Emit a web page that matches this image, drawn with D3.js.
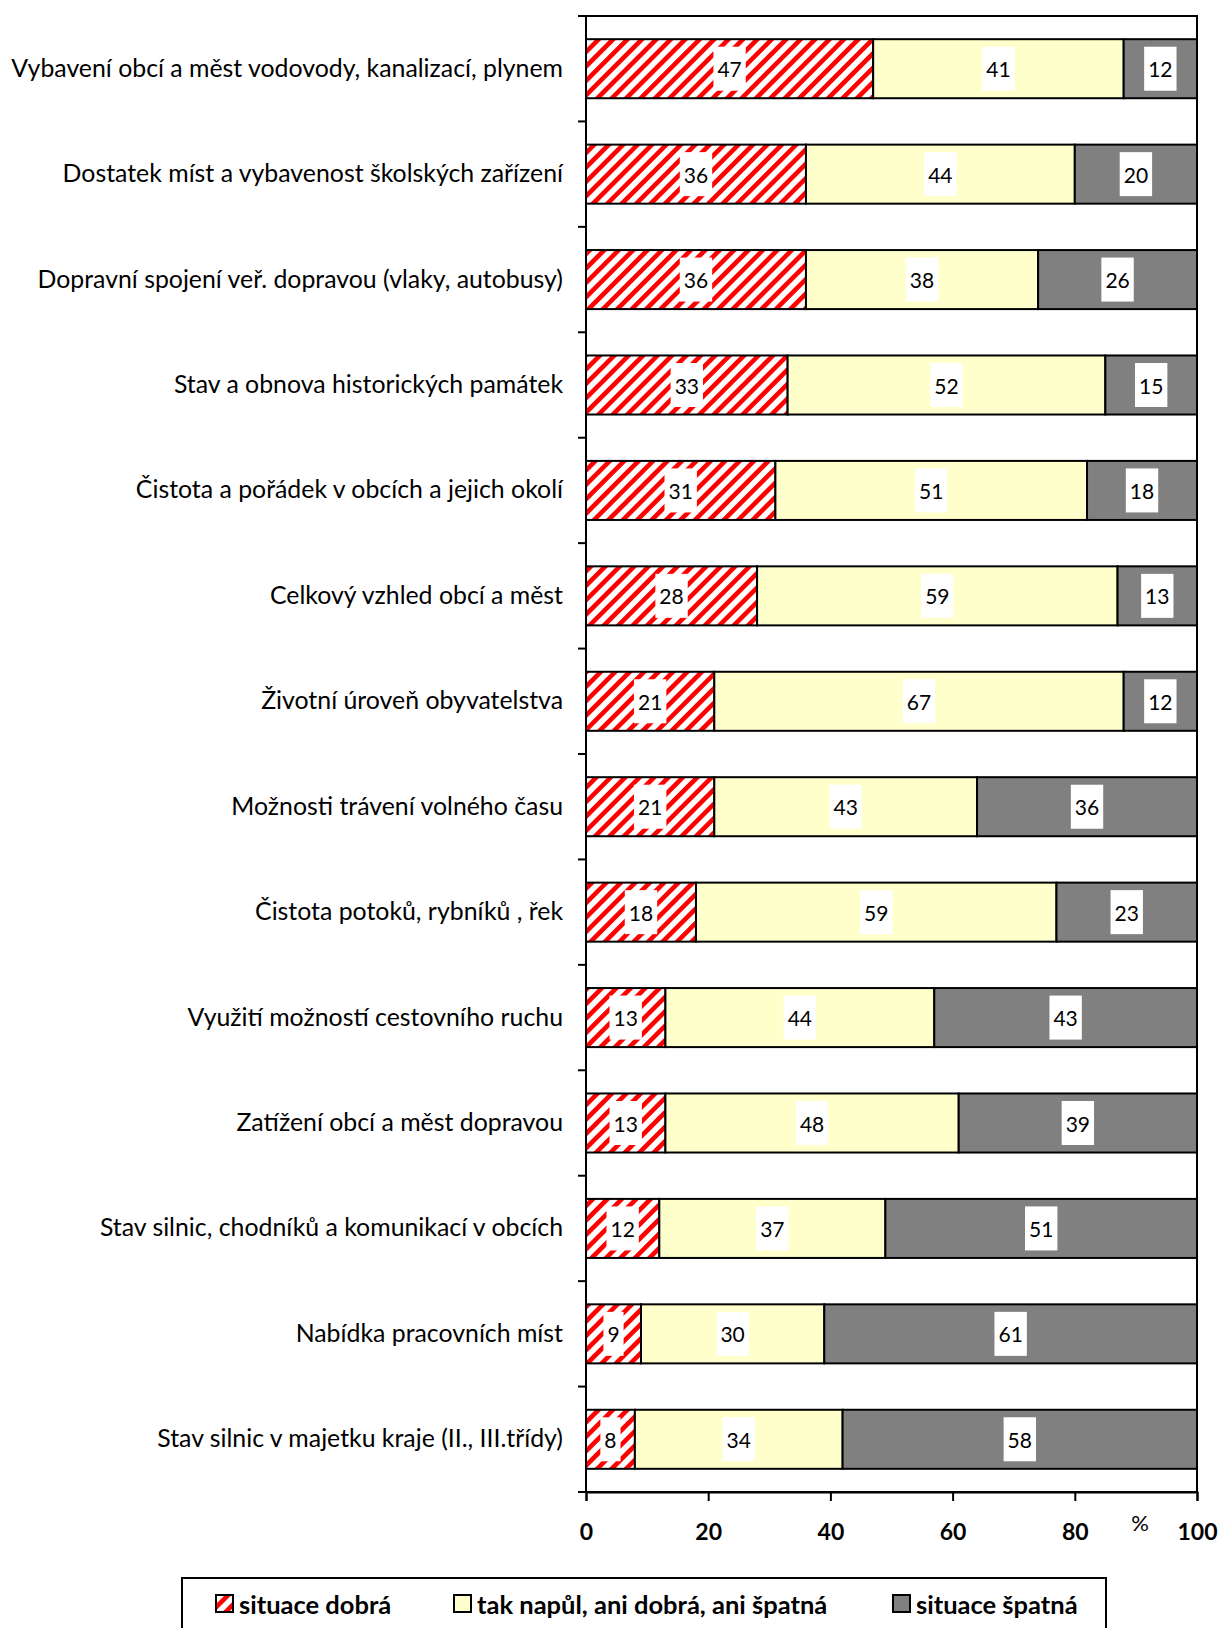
<!DOCTYPE html>
<html><head><meta charset="utf-8">
<script src="https://cdn.jsdelivr.net/npm/d3@7"></script>
<style>
html,body{margin:0;padding:0;background:#fff;}
svg{display:block;}
</style></head>
<body>
<svg id="chart" width="1220" height="1628"></svg>
<script>
const categories = [
  "Vybavení obcí a měst vodovody, kanalizací, plynem",
  "Dostatek míst a vybavenost školských zařízení",
  "Dopravní spojení veř. dopravou (vlaky, autobusy)",
  "Stav a obnova historických památek",
  "Čistota a pořádek v obcích a jejich okolí",
  "Celkový vzhled obcí a měst",
  "Životní úroveň obyvatelstva",
  "Možnosti trávení volného času",
  "Čistota potoků, rybníků , řek",
  "Využití možností cestovního ruchu",
  "Zatížení obcí a měst dopravou",
  "Stav silnic, chodníků a komunikací v obcích",
  "Nabídka pracovních míst",
  "Stav silnic v majetku kraje (II., III.třídy)"
];
const goodValues    = [47, 36, 36, 33, 31, 28, 21, 21, 18, 13, 13, 12, 9, 8];
const neutralValues = [41, 44, 38, 52, 51, 59, 67, 43, 59, 44, 48, 37, 30, 34];
const badValues     = [12, 20, 26, 15, 18, 13, 12, 36, 23, 43, 39, 51, 61, 58];
const seriesNames = ["situace dobrá", "tak napůl, ani dobrá, ani špatná", "situace špatná"];
const xTicks = [0, 20, 40, 60, 80, 100];
const unitLabel = "%";

(function () {
const FONT = "Lato, 'Open Sans', 'DejaVu Sans', sans-serif";
const svg = d3.select("#chart");
const pL = 586, pR = 1197, pT = 16, pB = 1492;

const defs = svg.append("defs");
const P = 10.2;
const pat = defs.append("pattern").attr("id", "hatch")
  .attr("patternUnits", "userSpaceOnUse")
  .attr("width", P).attr("height", P)
  .attr("patternTransform", "rotate(45)");
pat.append("rect").attr("width", P).attr("height", P).attr("fill", "#fff");
pat.append("rect").attr("width", 4.6).attr("height", P).attr("fill", "#ff0000");

const fills = ["url(#hatch)", "#ffffcc", "#808080"];

const x = d3.scaleLinear().domain([0, 100]).range([pL, pR]);
const y = d3.scaleBand().domain(categories).range([pT, pB])
  .paddingInner(0.44).paddingOuter(0.22);

const rows = categories.map((c, i) => {
  const vals = [goodValues[i], neutralValues[i], badValues[i]];
  let acc = 0;
  return vals.map((v, k) => { const s = acc; acc += v; return {cat: c, k, v, x0: s, x1: acc}; });
});

// plot frame
svg.append("rect").attr("x", pL).attr("y", pT)
  .attr("width", pR - pL).attr("height", pB - pT)
  .attr("fill", "#fff").attr("stroke", "#000").attr("stroke-width", 2);

// bars
const g = svg.append("g");
rows.forEach(r => {
  g.selectAll(null).data(r).enter().append("rect")
    .attr("x", d => x(d.x0)).attr("y", d => y(d.cat))
    .attr("width", d => x(d.x1) - x(d.x0)).attr("height", y.bandwidth())
    .attr("fill", d => fills[d.k]).attr("stroke", "#000").attr("stroke-width", 2);
});

// data labels with white boxes
rows.forEach(r => {
  r.forEach(d => {
    const cx = (x(d.x0) + x(d.x1)) / 2, cy = y(d.cat) + y.bandwidth() / 2;
    const t = svg.append("text").attr("x", cx).attr("y", cy)
      .attr("text-anchor", "middle").attr("dominant-baseline", "central")
      .attr("font-family", FONT).attr("font-size", 21).attr("fill", "#000").text(d.v);
    const bw = t.node().getComputedTextLength() + 8;
    svg.insert("rect", () => t.node())
      .attr("x", cx - bw / 2).attr("y", cy - 22).attr("width", bw).attr("height", 44)
      .attr("fill", "#fff");
  });
});

// y axis (category boundaries ticks)
const step = y.step();
const yAxisG = svg.append("g");
yAxisG.append("line").attr("x1", pL).attr("x2", pL).attr("y1", pT).attr("y2", pB)
  .attr("stroke", "#000").attr("stroke-width", 2);
const bounds = d3.range(categories.length + 1).map(i => i === 0 ? pT : (i === categories.length ? pB : y(categories[i]) - step * y.paddingInner() / 2));
yAxisG.selectAll("line.t").data(bounds).enter().append("line").attr("class", "t")
  .attr("x1", pL - 8).attr("x2", pL).attr("y1", d => d).attr("y2", d => d)
  .attr("stroke", "#000").attr("stroke-width", 2);

// category labels
const lab = svg.append("g");
const labels = lab.selectAll("text").data(categories).enter().append("text")
  .attr("x", 563).attr("y", d => y(d) + y.bandwidth() / 2 - 2)
  .attr("text-anchor", "end").attr("dominant-baseline", "central")
  .attr("font-family", FONT).attr("font-size", 24).attr("fill", "#000").text(d => d);
const w0 = labels.nodes()[0].getComputedTextLength();
const fs = 24 * 552 / w0;
labels.attr("font-size", fs);

// x axis
const xAxis = d3.axisBottom(x).tickValues(xTicks).tickSize(9).tickPadding(23);
const xg = svg.append("g").attr("transform", `translate(0,${pB})`).call(xAxis);
xg.select(".domain").attr("stroke", "#000").attr("stroke-width", 2);
xg.selectAll(".tick line").attr("stroke", "#000").attr("stroke-width", 2);
xg.selectAll(".tick text").attr("font-family", FONT).attr("font-size", 23)
  .attr("font-weight", "bold").attr("fill", "#000");

svg.append("text").attr("x", 1140).attr("y", 1531).attr("text-anchor", "middle")
  .attr("font-family", FONT).attr("font-size", 22).attr("fill", "#000").text(unitLabel);

// legend
const lg = svg.append("g");
lg.append("rect").attr("x", 182).attr("y", 1578).attr("width", 924).attr("height", 70)
  .attr("fill", "#fff").attr("stroke", "#000").attr("stroke-width", 2);
const legX = [216, 454, 893];
const li = lg.selectAll("g.item").data(seriesNames).enter().append("g").attr("class", "item")
  .attr("transform", (d, i) => `translate(${legX[i]},1604)`);
li.append("rect").attr("x", 0).attr("y", -9).attr("width", 17).attr("height", 17)
  .attr("fill", (d, i) => fills[i]).attr("stroke", "#000").attr("stroke-width", 2);
li.append("text").attr("x", 23).attr("y", 0).attr("dominant-baseline", "central")
  .attr("font-family", FONT).attr("font-size", 25.5).attr("font-weight", "bold")
  .attr("fill", "#000").text(d => d);
})();
</script>
</body></html>
